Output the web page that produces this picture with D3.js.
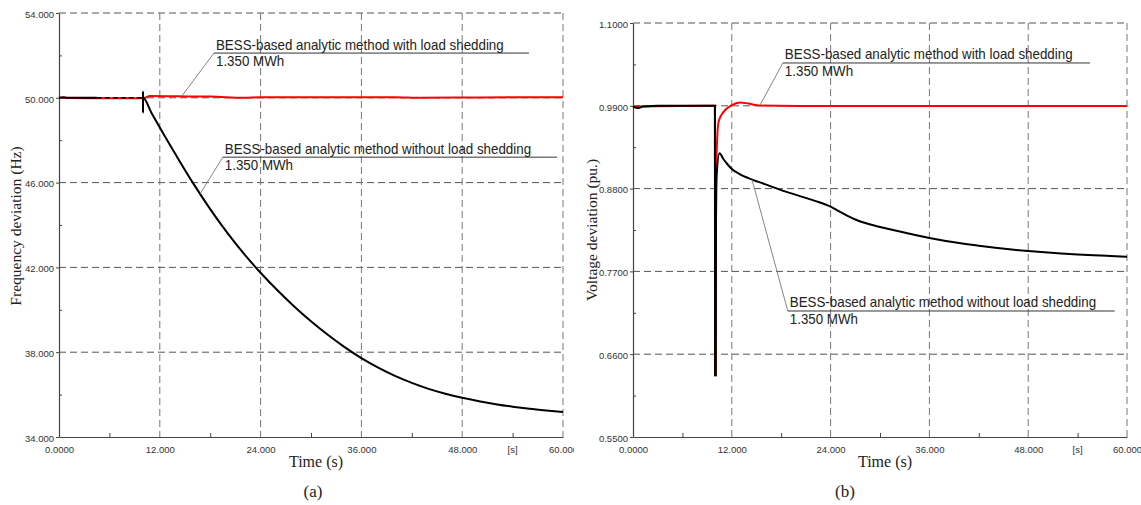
<!DOCTYPE html>
<html>
<head>
<meta charset="utf-8">
<script src="https://cdn.jsdelivr.net/npm/d3@7"></script>
<style>
  body { margin: 0; background: #fff; }
</style>
</head>
<body>
<div id="canvas"></div>
<script>
"use strict"

/* ---------- values ---------- */
const timeTicks = [0, 12, 24, 36, 48, 60];
const timeTickLabels = ["0.0000", "12.000", "24.000", "36.000", "48.000", "60.000"];
const freqTicks = [34, 38, 42, 46, 50, 54];
const freqTickLabels = ["34.000", "38.000", "42.000", "46.000", "50.000", "54.000"];
const voltTicks = [0.55, 0.66, 0.77, 0.88, 0.99, 1.10];
const voltTickLabels = ["0.5500", "0.6600", "0.7700", "0.8800", "0.9900", "1.1000"];

/* [time s, frequency Hz] */
const freqWithShed = [
  [0, 50], [4.5, 49.98], [10, 49.98], [10.2, 50.0], [10.8, 50.08], [14, 50.07],
  [18, 50.06], [22, 50.0], [24, 50.03], [40, 50.03], [43, 50.0], [50, 50.02], [60, 50.03]
];
const freqWithoutShed = [
  [0, 50], [0.5, 50.03], [1, 50], [4.5, 50], [10, 50], [10.001, 50.3], [10.002, 49.3],
  [10.003, 50.0], [11, 49.3], [12, 48.6], [14, 47.25], [16, 45.95], [18, 44.75],
  [20, 43.65], [22, 42.65], [24, 41.75], [26, 40.92], [28, 40.16], [30, 39.46],
  [32, 38.82], [34, 38.24], [36, 37.72], [38, 37.27], [40, 36.88], [42, 36.55],
  [44, 36.27], [46, 36.04], [48, 35.85], [50, 35.69], [52, 35.55], [54, 35.43],
  [56, 35.33], [58, 35.25], [60, 35.18]
];

/* [time s, voltage pu] */
const voltWithShed = [
  [0, 0.989], [9.95, 0.99], [9.97, 0.632], [10.05, 0.632], [10.08, 0.831], [10.1, 0.9025],
  [10.2, 0.94], [10.36, 0.9667], [10.6, 0.975], [11, 0.982], [12, 0.991], [13, 0.9945],
  [14, 0.993], [15.4, 0.9903], [20, 0.9898], [30, 0.9897], [60, 0.9897]
];
const voltWithoutShed = [
  [0, 0.989], [0.6, 0.987], [1.2, 0.989], [2, 0.9895], [3, 0.99], [9.95, 0.99],
  [9.97, 0.632], [10.05, 0.632], [10.08, 0.831], [10.15, 0.895], [10.5, 0.927],
  [11, 0.919], [11.5, 0.912], [12, 0.906], [13, 0.899], [14, 0.894], [16, 0.886],
  [18, 0.878], [20, 0.871], [22, 0.864], [24, 0.856], [25, 0.85], [26, 0.844],
  [27, 0.839], [28, 0.835], [30, 0.829], [32, 0.824], [34, 0.819], [36, 0.8145],
  [38, 0.8105], [40, 0.807], [42, 0.804], [44, 0.8013], [46, 0.799], [48, 0.797],
  [50, 0.7953], [52, 0.7938], [54, 0.7925], [56, 0.7914], [58, 0.7904], [60, 0.7895]
];

const labelWith = "BESS-based analytic method with load shedding";
const labelWithout = "BESS-based analytic method without load shedding";
const energyLabel = "1.350 MWh";

/* ---------- canvas ---------- */
let svg = d3.select("#canvas")
  .append("svg")
  .attr("width", 1141)
  .attr("height", 505)
  .style("display", "block");

svg.append("rect").attr("width", 1141).attr("height", 505).attr("fill", "white");

const sans = "'Liberation Sans', Arial, sans-serif";
const serif = "'Liberation Serif', 'Times New Roman', serif";

/* value of a series at time t (for leader line anchors) */
function valueAt(series, t) {
  let i = d3.bisector(d => d[0]).left(series, t);
  if (i <= 0) return series[0][1];
  if (i >= series.length) return series[series.length - 1][1];
  let a = series[i - 1], b = series[i];
  return a[1] + (b[1] - a[1]) * (t - a[0]) / (b[0] - a[0]);
}

function drawPanel(cfg) {
  let g = svg.append("g");

  if (cfg.cover) {
    g.append("rect").attr("x", cfg.cover).attr("y", 0)
      .attr("width", 1141 - cfg.cover).attr("height", 505).attr("fill", "white");
  }

  let x = d3.scaleLinear().domain([0, 60]).range([cfg.left, cfg.right]);
  let y = d3.scaleLinear().domain([cfg.yTicks[0], cfg.yTicks[cfg.yTicks.length - 1]])
    .range([cfg.bottom, cfg.top]);

  /* dashed grid */
  g.append("g").selectAll("line").data(cfg.yTicks.slice(1)).join("line")
    .attr("x1", cfg.left).attr("x2", cfg.right)
    .attr("y1", d => y(d)).attr("y2", d => y(d))
    .attr("stroke", "#555").attr("stroke-width", 1).attr("stroke-dasharray", "7,4");
  g.append("g").selectAll("line").data(timeTicks.slice(1)).join("line")
    .attr("x1", d => x(d)).attr("x2", d => x(d))
    .attr("y1", cfg.top).attr("y2", cfg.bottom)
    .attr("stroke", "#777").attr("stroke-width", 1).attr("stroke-dasharray", "7,4");

  /* axes */
  let yAxis = g.append("g").attr("transform", `translate(${cfg.left},0)`)
    .call(d3.axisLeft(y).tickValues(cfg.yTicks)
      .tickFormat((d, i) => cfg.yLabels[i]).tickSize(3).tickSizeOuter(0).tickPadding(2));
  let yMinor = cfg.yTicks.slice(1).map((d, i) => (d + cfg.yTicks[i]) / 2);
  g.append("g").attr("transform", `translate(${cfg.left},0)`)
    .call(d3.axisLeft(y).tickValues(yMinor).tickFormat("").tickSize(-3).tickSizeOuter(0))
    .select(".domain").remove();

  let xAxis = g.append("g").attr("transform", `translate(0,${cfg.bottom})`)
    .call(d3.axisBottom(x).tickValues(timeTicks)
      .tickFormat((d, i) => timeTickLabels[i]).tickSize(0).tickSizeOuter(0).tickPadding(9));
  let xMinor = timeTicks.slice(1).map((d, i) => (d + timeTicks[i]) / 2);
  g.append("g").attr("transform", `translate(0,${cfg.bottom})`)
    .call(d3.axisBottom(x).tickValues(xMinor).tickFormat("").tickSize(-4).tickSizeOuter(0))
    .select(".domain").remove();

  [yAxis, xAxis].forEach(a => {
    a.select(".domain").attr("stroke", "#444").attr("stroke-width", 1.2);
    a.selectAll("text").attr("fill", "#333")
      .style("font-family", sans).style("font-size", "9.5px");
  });
  g.selectAll(".tick line").attr("stroke", "#444");
  yAxis.selectAll("text").attr("dy", "0.45em");

  /* unit label on the time axis, at the 54 s minor tick */
  g.append("text").attr("x", x(54)).attr("y", cfg.bottom + 16)
    .attr("text-anchor", "middle").attr("fill", "#333")
    .style("font-family", sans).style("font-size", "9.5px").text("[s]");

  /* curves */
  let line = d3.line().x(d => x(d[0])).y(d => y(d[1])).curve(d3.curveMonotoneX);
  g.append("path").datum(cfg.withShed).attr("d", line)
    .attr("fill", "none").attr("stroke", "#ff0000").attr("stroke-width", 2);
  if (cfg.dashFrom !== undefined) {
    let pre = cfg.withoutShed.filter(d => d[0] <= cfg.dashFrom);
    let mid = cfg.withoutShed.filter(d => d[0] >= cfg.dashFrom && d[0] <= cfg.dashTo);
    let post = cfg.withoutShed.filter(d => d[0] >= cfg.dashTo);
    g.append("path").datum(pre).attr("d", line)
      .attr("fill", "none").attr("stroke", "#000").attr("stroke-width", 2);
    g.append("path").datum(mid).attr("d", line)
      .attr("fill", "none").attr("stroke", "#000").attr("stroke-width", 1.6)
      .attr("stroke-dasharray", "5,3");
    g.append("path").datum(post).attr("d", line)
      .attr("fill", "none").attr("stroke", "#000").attr("stroke-width", 2);
  } else {
    g.append("path").datum(cfg.withoutShed).attr("d", line)
      .attr("fill", "none").attr("stroke", "#000").attr("stroke-width", 2);
  }

  /* callouts */
  cfg.notes.forEach(n => {
    let ax = x(n.anchorT), ay = y(valueAt(n.series, n.anchorT));
    let lx = x(n.labelT), ly = y(n.labelV);
    g.append("line").attr("x1", ax).attr("y1", ay).attr("x2", lx).attr("y2", ly)
      .attr("stroke", "#777").attr("stroke-width", 0.9);
    g.append("line").attr("x1", lx).attr("y1", ly).attr("x2", x(n.endT)).attr("y2", ly)
      .attr("stroke", "#333").attr("stroke-width", 1);
    let t1 = g.append("text").attr("x", lx + 2).attr("y", ly - 3.5)
      .attr("fill", "#222").style("font-family", sans).style("font-size", "14.5px")
      .text(n.text);
    t1.attr("textLength", t1.node().getComputedTextLength() * 0.92)
      .attr("lengthAdjust", "spacingAndGlyphs");
    let t2 = g.append("text").attr("x", lx + 2).attr("y", ly + 13)
      .attr("fill", "#222").style("font-family", sans).style("font-size", "14.5px")
      .text(energyLabel);
    t2.attr("textLength", t2.node().getComputedTextLength() * 0.92)
      .attr("lengthAdjust", "spacingAndGlyphs");
  });

  /* axis titles and caption */
  g.append("text")
    .attr("transform", `translate(${cfg.yTitleX},${cfg.yTitleY}) rotate(-90)`)
    .attr("text-anchor", "middle").attr("fill", "#222")
    .style("font-family", serif).style("font-size", "15.5px").text(cfg.yTitle);
  g.append("text").attr("x", (cfg.left + cfg.right) / 2 + 5).attr("y", 467)
    .attr("text-anchor", "middle").attr("fill", "#222")
    .style("font-family", serif).style("font-size", "16px").text("Time (s)");
  g.append("text").attr("x", cfg.captionX).attr("y", 497)
    .attr("text-anchor", "middle").attr("fill", "#222")
    .style("font-family", serif).style("font-size", "17px").text(cfg.caption);
}

/* ---------- (a) frequency ---------- */
drawPanel({
  left: 59, right: 563, top: 13, bottom: 437,
  yTicks: freqTicks, yLabels: freqTickLabels,
  withShed: freqWithShed, withoutShed: freqWithoutShed,
  dashFrom: 4.5, dashTo: 10,
  yTitle: "Frequency deviation (Hz)", yTitleX: 21, yTitleY: 226,
  caption: "(a)", captionX: 313,
  notes: [
    { series: freqWithShed, anchorT: 14.6, labelT: 18.45, labelV: 52.11, endT: 55.95, text: labelWith },
    { series: freqWithoutShed, anchorT: 16.8, labelT: 19.5, labelV: 47.2, endT: 59.3, text: labelWithout }
  ]
});

/* ---------- (b) voltage ---------- */
drawPanel({
  left: 633, right: 1127, top: 23, bottom: 437, cover: 574,
  yTicks: voltTicks, yLabels: voltTickLabels,
  withShed: voltWithShed, withoutShed: voltWithoutShed,
  yTitle: "Voltage deviation (pu.)", yTitleX: 597, yTitleY: 230,
  caption: "(b)", captionX: 845,
  notes: [
    { series: voltWithShed, anchorT: 15.4, labelT: 18.2, labelV: 1.0469, endT: 55.5, text: labelWith },
    { series: voltWithoutShed, anchorT: 14.45, labelT: 18.8, labelV: 0.7174, endT: 58.5, text: labelWithout }
  ]
});
</script>
</body>
</html>
